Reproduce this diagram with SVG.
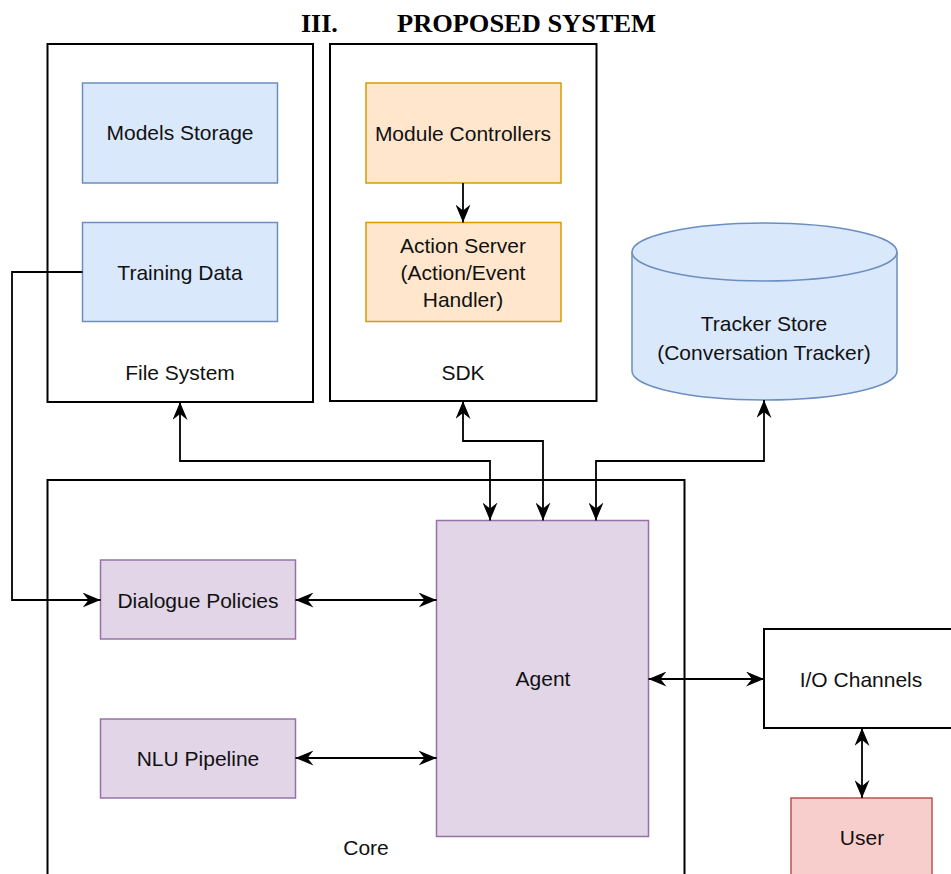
<svg xmlns="http://www.w3.org/2000/svg" width="951" height="874" viewBox="0 0 951 874">
<defs>
<marker id="arr" viewBox="0 0 18 15" markerWidth="18" markerHeight="15" refX="18" refY="7.5" markerUnits="userSpaceOnUse" orient="auto-start-reverse">
<path d="M0,0 L18,7.5 L0,15 L6,7.5 Z" fill="#000"/>
</marker>
</defs>
<style>
.t{font-family:"Liberation Sans",Arial,sans-serif;font-size:21px;fill:#111;text-anchor:middle}
.title{font-family:"Liberation Serif","Times New Roman",serif;font-size:26px;font-weight:bold;fill:#000}
.cont{fill:#fff;stroke:#000;stroke-width:2}
.blue{fill:#dae8fc;stroke:#6c8ebf;stroke-width:1.5}
.orange{fill:#ffe6cc;stroke:#d79b00;stroke-width:1.5}
.purple{fill:#e1d5e7;stroke:#9673a6;stroke-width:1.5}
.red{fill:#f8cecc;stroke:#b85450;stroke-width:1.5}
.c{fill:none;stroke:#000;stroke-width:1.8}
</style>
<rect width="951" height="874" fill="#fff"/>
<text class="title" x="301" y="32">III.</text>
<text class="title" x="397" y="32" textLength="259" lengthAdjust="spacingAndGlyphs">PROPOSED SYSTEM</text>

<g id="file-system">
<rect class="cont" x="47.5" y="44" width="265.5" height="358"/>
<text class="t" x="180" y="380">File System</text>
</g>
<g id="models-storage">
<rect class="blue" x="82.5" y="83" width="195" height="100"/>
<text class="t" x="180" y="140">Models Storage</text>
</g>
<g id="training-data">
<rect class="blue" x="82.5" y="222.5" width="195" height="99"/>
<text class="t" x="180" y="280">Training Data</text>
</g>

<g id="sdk">
<rect class="cont" x="330" y="44" width="266.5" height="357"/>
<text class="t" x="463" y="380">SDK</text>
</g>
<g id="module-controllers">
<rect class="orange" x="366" y="83" width="195" height="100"/>
<text class="t" x="463" y="141">Module Controllers</text>
</g>
<g id="action-server">
<rect class="orange" x="366" y="222.5" width="195" height="99"/>
<text class="t" x="463" y="253">Action Server</text>
<text class="t" x="463" y="280">(Action/Event</text>
<text class="t" x="463" y="307">Handler)</text>
</g>

<g id="tracker-store">
<path class="blue" d="M632,252 A132.5,29 0 0 1 897,252 L897,371 A132.5,29 0 0 1 632,371 Z"/>
<path d="M632,252 A132.5,29 0 0 0 897,252" fill="none" stroke="#6c8ebf" stroke-width="1.5"/>
<text class="t" x="764" y="331">Tracker Store</text>
<text class="t" x="764" y="360">(Conversation Tracker)</text>
</g>

<g id="core">
<rect class="cont" x="47.5" y="480" width="637" height="420"/>
<text class="t" x="366" y="855">Core</text>
</g>
<g id="dialogue-policies">
<rect class="purple" x="100.5" y="560" width="195" height="79"/>
<text class="t" x="198" y="608">Dialogue Policies</text>
</g>
<g id="nlu-pipeline">
<rect class="purple" x="100.5" y="719" width="195" height="79"/>
<text class="t" x="198" y="766">NLU Pipeline</text>
</g>
<g id="agent">
<rect class="purple" x="436.5" y="520.5" width="212" height="316"/>
<text class="t" x="543" y="686">Agent</text>
</g>
<g id="io-channels">
<rect class="cont" x="764" y="629" width="200" height="99"/>
<text class="t" x="861" y="687">I/O Channels</text>
</g>
<g id="user">
<rect class="red" x="791" y="798" width="141" height="100"/>
<text class="t" x="862" y="845">User</text>
</g>

<g id="connectors">
<path class="c" d="M82.5,272 H12 V600 H100.5" marker-end="url(#arr)"/>
<path class="c" d="M463,183 V222.5" marker-end="url(#arr)"/>
<path class="c" d="M180,402 V461 H490 V520.5" marker-start="url(#arr)" marker-end="url(#arr)"/>
<path class="c" d="M463,401 V441 H543 V520.5" marker-start="url(#arr)" marker-end="url(#arr)"/>
<path class="c" d="M764,400 V461 H596 V520.5" marker-start="url(#arr)" marker-end="url(#arr)"/>
<path class="c" d="M295.5,600 H436.5" marker-start="url(#arr)" marker-end="url(#arr)"/>
<path class="c" d="M295.5,758 H436.5" marker-start="url(#arr)" marker-end="url(#arr)"/>
<path class="c" d="M648.5,679 H764" marker-start="url(#arr)" marker-end="url(#arr)"/>
<path class="c" d="M862,728 V798" marker-start="url(#arr)" marker-end="url(#arr)"/>
</g>
</svg>
